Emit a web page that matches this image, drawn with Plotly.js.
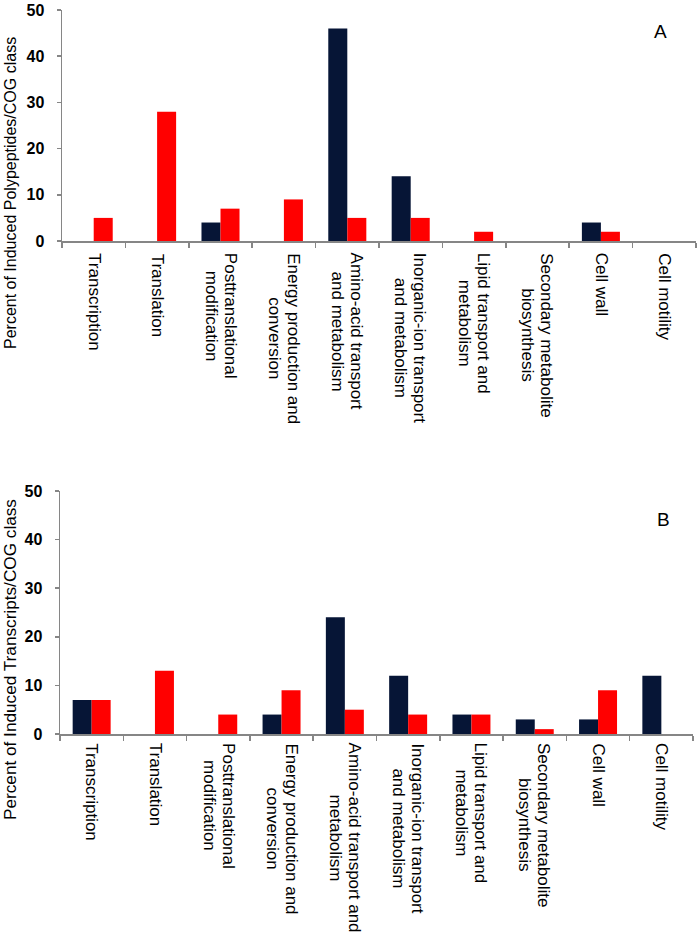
<!DOCTYPE html>
<html>
<head>
<meta charset="utf-8">
<script src="https://cdn.plot.ly/plotly-3.0.1.min.js"></script>
<style>html,body{margin:0;padding:0;background:#fff;}#chart{width:700px;height:942px;}</style>
</head>
<body>
<div id="chart"></div>
<script>
// ---- data ----
const categories = ["Transcription", "Translation", "Posttranslational", "Energy", "Amino-acid", "Inorganic-ion", "Lipid", "Secondary", "Cell wall", "Cell motility"];
const tickLabelsA = ["Transcription", "Translation", "Posttranslational<br>modification", "Energy production and<br>conversion", "Amino-acid transport<br>and metabolism", "Inorganic-ion transport<br>and metabolism", "Lipid transport and<br>metabolism", "Secondary metabolite<br>biosynthesis", "Cell wall", "Cell motility"];
const tickLabelsB = ["Transcription", "Translation", "Posttranslational<br>modification", "Energy production and<br>conversion", "Amino-acid transport and<br>metabolism", "Inorganic-ion transport<br>and metabolism", "Lipid transport and<br>metabolism", "Secondary metabolite<br>biosynthesis", "Cell wall", "Cell motility"];
const polypeptidesNavy = [0, 0, 4, 0, 46, 14, 0, 0, 4, 0];
const polypeptidesRed  = [5, 28, 7, 9, 5, 5, 2, 0, 2, 0];
const transcriptsNavy  = [7, 0, 0, 4, 24, 12, 4, 3, 3, 12];
const transcriptsRed   = [7, 13, 4, 9, 5, 4, 4, 1, 9, 0];
const yTitleA = "Percent of Induced Polypeptides/COG class";
const yTitleB = "Percent of Induced Transcripts/COG class";
const panelA = "A", panelB = "B";

// ---- styling ----
const W = 700, H = 942;
const NAVY = "#061536", RED = "#ff0000", AXIS = "#868686";
const LABEL_FONT = "Liberation Sans, Arial, sans-serif";
const LABEL_SIZE = 17;
const LINE_STEP = 19;
const px = v => v / W, py = v => 1 - v / H;

function bar(x, y, color, xa, ya) {
  return {type: "bar", x: x, y: y, xaxis: xa, yaxis: ya, hoverinfo: "skip",
    marker: {color: color, line: {width: 0}}, showlegend: false};
}
const traces = [
  bar(categories, polypeptidesNavy, NAVY, "x", "y"),
  bar(categories, polypeptidesRed, RED, "x", "y"),
  bar(categories, transcriptsNavy, NAVY, "x2", "y2"),
  bar(categories, transcriptsRed, RED, "x2", "y2")
];

function xAxis(domain, anchor) {
  return {domain: domain, anchor: anchor, type: "category", showline: true, linecolor: AXIS, linewidth: 1.5,
    ticks: "outside", tickson: "boundaries", ticklen: 5, tickwidth: 1.5, tickcolor: AXIS,
    showticklabels: false, showgrid: false, zeroline: false, automargin: false, fixedrange: true};
}
function yAxis(domain, anchor) {
  return {domain: domain, anchor: anchor, range: [0, 50], dtick: 10, showline: true, linecolor: AXIS, linewidth: 1.5,
    ticks: "outside", ticklen: 4, tickwidth: 1.5, tickcolor: AXIS, ticklabelstandoff: 9,
    ticklabeloverflow: "allow",
    tickfont: {family: LABEL_FONT, size: 16, color: "#000", weight: "bold"},
    showgrid: false, zeroline: false, automargin: false, fixedrange: true};
}

// measure text to centre multi-line rotated labels line by line
const ctx = document.createElement("canvas").getContext("2d");
ctx.font = LABEL_SIZE + "px 'Liberation Sans', Arial, sans-serif";
const annotations = [];
function catLabels(labels, xref, topPx) {
  labels.forEach((t, i) => {
    const lines = t.split("<br>");
    const maxW = Math.max(...lines.map(l => ctx.measureText(l).width));
    const n = lines.length;
    lines.forEach((l, j) => annotations.push({
      text: l, x: categories[i], xref: xref, y: py(topPx + maxW / 2), yref: "paper",
      yanchor: "middle", xanchor: "center", xshift: ((n - 1) / 2 - j) * LINE_STEP,
      textangle: 90, showarrow: false,
      font: {family: LABEL_FONT, size: LABEL_SIZE, color: "#000"}
    }));
  });
}
catLabels(tickLabelsA, "x", 253);
catLabels(tickLabelsB, "x2", 743);
annotations.push({text: yTitleA, textangle: -90, x: px(10), y: py(193), xref: "paper", yref: "paper",
  xanchor: "center", yanchor: "middle", showarrow: false, font: {family: LABEL_FONT, size: 16, color: "#000"}});
annotations.push({text: yTitleB, textangle: -90, x: px(10), y: py(660), xref: "paper", yref: "paper",
  xanchor: "center", yanchor: "middle", showarrow: false, font: {family: LABEL_FONT, size: 17.2, color: "#000"}});
annotations.push({text: panelA, x: px(660), y: py(32), xref: "paper", yref: "paper", xanchor: "center", yanchor: "middle",
  showarrow: false, font: {family: LABEL_FONT, size: 19, color: "#000"}});
annotations.push({text: panelB, x: px(663), y: py(519), xref: "paper", yref: "paper", xanchor: "center", yanchor: "middle",
  showarrow: false, font: {family: LABEL_FONT, size: 19, color: "#000"}});

const layout = {
  width: W, height: H, margin: {l: 0, r: 0, t: 0, b: 0, pad: 0},
  paper_bgcolor: "#fff", plot_bgcolor: "rgba(0,0,0,0)",
  barmode: "group", bargap: 0.4, bargroupgap: 0,
  xaxis: xAxis([px(62), px(696)], "y"),
  yaxis: yAxis([py(241), py(10)], "x"),
  xaxis2: xAxis([px(60), px(693)], "y2"),
  yaxis2: yAxis([py(734), py(491)], "x2"),
  annotations: annotations,
  showlegend: false
};
Plotly.newPlot("chart", traces, layout, {displayModeBar: false, staticPlot: true});
</script>
</body>
</html>
